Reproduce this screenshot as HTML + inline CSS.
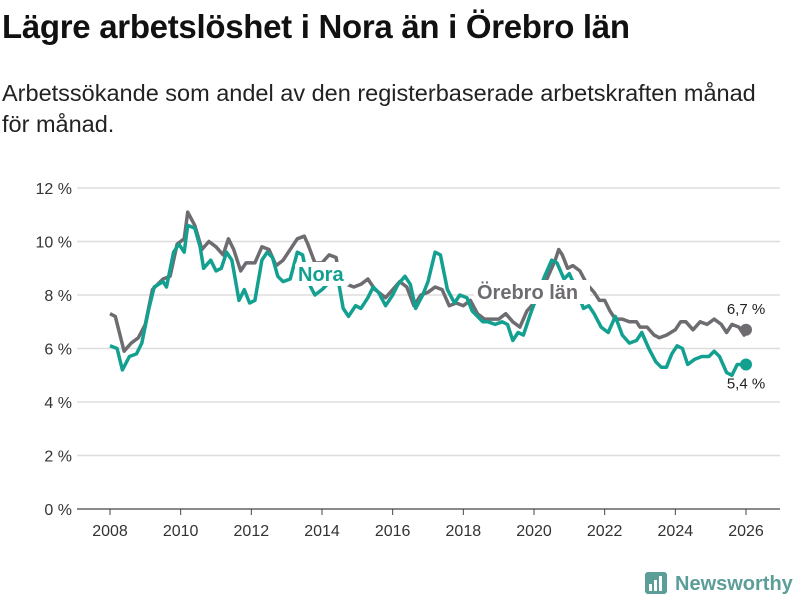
<!DOCTYPE html>
<html><head><meta charset="utf-8">
<style>
body{margin:0;width:800px;height:600px;background:#fff;font-family:"Liberation Sans","DejaVu Sans",sans-serif;overflow:hidden;position:relative}
h1{position:absolute;left:2px;top:8px;margin:0;font-size:33px;font-weight:bold;color:#111;letter-spacing:-0.3px}
.sub{position:absolute;left:2px;top:78px;font-size:23.5px;line-height:31px;color:#222;width:780px}
svg{position:absolute;left:0;top:0}
</style></head><body>
<h1>Lägre arbetslöshet i Nora än i Örebro län</h1>
<div class="sub">Arbetssökande som andel av den registerbaserade arbetskraften månad för månad.</div>
<svg id="chart" width="800" height="600"></svg>
<script>
const yTicks=[0,2,4,6,8,10,12];
const xTicks=[2008,2010,2012,2014,2016,2018,2020,2022,2024,2026];
const orebroDates=[2008.0,2008.15,2008.4,2008.6,2008.8,2009.0,2009.2,2009.5,2009.7,2009.9,2010.1,2010.2,2010.4,2010.6,2010.8,2011.0,2011.2,2011.35,2011.5,2011.7,2011.85,2012.1,2012.3,2012.5,2012.7,2012.9,2013.1,2013.3,2013.5,2013.6,2013.8,2014.0,2014.2,2014.4,2014.5,2014.7,2014.9,2015.1,2015.3,2015.5,2015.8,2016.0,2016.2,2016.4,2016.6,2016.8,2017.0,2017.2,2017.4,2017.6,2017.8,2018.0,2018.2,2018.4,2018.6,2018.8,2019.0,2019.2,2019.4,2019.6,2019.8,2020.0,2020.2,2020.4,2020.6,2020.7,2020.8,2020.95,2021.1,2021.3,2021.5,2021.7,2021.85,2022.0,2022.15,2022.3,2022.5,2022.7,2022.9,2023.0,2023.2,2023.4,2023.55,2023.75,2024.0,2024.15,2024.3,2024.5,2024.7,2024.9,2025.1,2025.3,2025.45,2025.6,2025.8,2025.95,2026.0];
const orebroValues=[7.3,7.2,5.9,6.2,6.4,6.9,8.2,8.6,8.7,9.9,10.1,11.1,10.6,9.7,10.0,9.8,9.5,10.1,9.7,8.9,9.2,9.2,9.8,9.7,9.1,9.3,9.7,10.1,10.2,9.9,9.2,9.2,9.5,9.4,8.6,8.4,8.3,8.4,8.6,8.2,7.9,8.2,8.5,8.3,7.6,8.0,8.1,8.3,8.2,7.6,7.7,7.6,7.8,7.3,7.1,7.1,7.1,7.3,7.0,6.8,7.4,7.7,8.1,8.7,9.3,9.7,9.5,9.0,9.1,8.9,8.4,8.1,7.8,7.8,7.4,7.1,7.1,7.0,7.0,6.8,6.8,6.5,6.4,6.5,6.7,7.0,7.0,6.7,7.0,6.9,7.1,6.9,6.6,6.9,6.8,6.5,6.7];
const noraDates=[2008.0,2008.2,2008.35,2008.55,2008.75,2008.9,2009.1,2009.25,2009.5,2009.6,2009.8,2009.95,2010.1,2010.2,2010.4,2010.55,2010.65,2010.85,2011.0,2011.15,2011.3,2011.45,2011.65,2011.8,2011.95,2012.1,2012.3,2012.45,2012.6,2012.75,2012.9,2013.1,2013.3,2013.45,2013.6,2013.8,2014.0,2014.15,2014.25,2014.4,2014.6,2014.75,2014.95,2015.1,2015.3,2015.45,2015.6,2015.8,2016.0,2016.15,2016.35,2016.5,2016.65,2016.85,2017.0,2017.2,2017.35,2017.55,2017.75,2017.9,2018.1,2018.25,2018.4,2018.55,2018.7,2018.9,2019.1,2019.25,2019.4,2019.55,2019.7,2019.9,2020.1,2020.3,2020.5,2020.65,2020.85,2021.0,2021.2,2021.4,2021.55,2021.7,2021.9,2022.1,2022.3,2022.5,2022.7,2022.9,2023.05,2023.25,2023.45,2023.6,2023.75,2023.9,2024.05,2024.2,2024.35,2024.55,2024.75,2024.95,2025.1,2025.25,2025.45,2025.6,2025.75,2026.0];
const noraValues=[6.1,6.0,5.2,5.7,5.8,6.2,7.5,8.3,8.5,8.3,9.6,9.9,9.6,10.6,10.5,9.8,9.0,9.3,8.9,9.0,9.6,9.3,7.8,8.2,7.7,7.8,9.3,9.6,9.4,8.7,8.5,8.6,9.6,9.5,8.5,8.0,8.2,8.4,8.8,9.0,7.5,7.2,7.6,7.5,7.9,8.3,8.1,7.6,8.0,8.4,8.7,8.4,7.5,8.0,8.5,9.6,9.5,8.2,7.7,8.0,7.9,7.4,7.2,7.0,7.0,6.9,7.0,6.9,6.3,6.6,6.5,7.3,8.0,8.7,9.3,9.2,8.6,8.8,8.2,7.5,7.6,7.3,6.8,6.6,7.2,6.5,6.2,6.3,6.6,6.0,5.5,5.3,5.3,5.8,6.1,6.0,5.4,5.6,5.7,5.7,5.9,5.7,5.1,5.0,5.4,5.4];
const NS='http://www.w3.org/2000/svg';
const svg=document.getElementById('chart');
const xS=v=>110+(v-2008)*(746-110)/18;
const yS=v=>509-v*(509-188)/12;
function mk(t,a,p){const e=document.createElementNS(NS,t);for(const k in a)e.setAttribute(k,a[k]);(p||svg).appendChild(e);return e;}
yTicks.forEach(t=>{
  const l=mk('line',{x1:77,x2:780,y1:yS(t),y2:yS(t),stroke:t===0?'#444':'#ddd','stroke-width':t===0?1.2:1.5});
  
  
  const tx=mk('text',{x:72,y:yS(t)+6,'text-anchor':'end','font-size':16,fill:'#333'});
  tx.textContent=t+' %';
  
  
});
xTicks.forEach(t=>{
  const l=mk('line',{x1:xS(t),x2:xS(t),y1:509,y2:515,stroke:'#444'});
  
  
  const tx=mk('text',{x:xS(t),y:536,'text-anchor':'middle','font-size':16,fill:'#333'});
  tx.textContent=t;
  
  
});
function line(d,v,c,n){
  const p=mk('path',{d:d.map((x,i)=>(i?'L':'M')+xS(x).toFixed(1)+','+yS(v[i]).toFixed(1)).join(''),fill:'none',stroke:c,'stroke-width':3.5,'stroke-linejoin':'round'});
  
  
  const c2=mk('circle',{cx:xS(d[d.length-1]),cy:yS(v[v.length-1]),r:6,fill:c});
  
  
}
line(orebroDates,orebroValues,'#6e6c71','orebro');
line(noraDates,noraValues,'#13a090','nora');
function lab(x,y,w,t,c,n){
  const r=mk('rect',{x:x,y:y,width:w,height:24,rx:4,fill:'#fff'});
  
  
  const tx=mk('text',{x:x+3,y:y+19,'font-size':20,'font-weight':'bold',fill:c});
  tx.textContent=t;
  
  
}
lab(295,262,55,'Nora','#13a090','nora');
lab(474,280,116,'Örebro län','#6e6c71','orebro');
function endLab(x,y,t,n){const tx=mk('text',{x:x,y:y,'text-anchor':'middle','font-size':15,fill:'#222'});tx.textContent=t;
  
  }
endLab(xS(orebroDates[orebroDates.length-1]),yS(orebroValues[orebroValues.length-1])-16,'6,7 %','orebro-end-value');
endLab(xS(noraDates[noraDates.length-1]),yS(noraValues[noraValues.length-1])+24,'5,4 %','nora-end-value');
const g=mk('g',{});


mk('rect',{x:645,y:572,width:22,height:22,rx:3,fill:'#5b9e98'},g);
[[649,584,3,7],[654,580,3,11],[659,576,3,15]].forEach(b=>mk('rect',{x:b[0],y:b[1],width:b[2],height:b[3],fill:'#fff'},g));
const lt=mk('text',{x:675,y:590,'font-size':20,'font-weight':'bold',fill:'#5b9e98'},g);lt.textContent='Newsworthy';
</script>
</body></html>
